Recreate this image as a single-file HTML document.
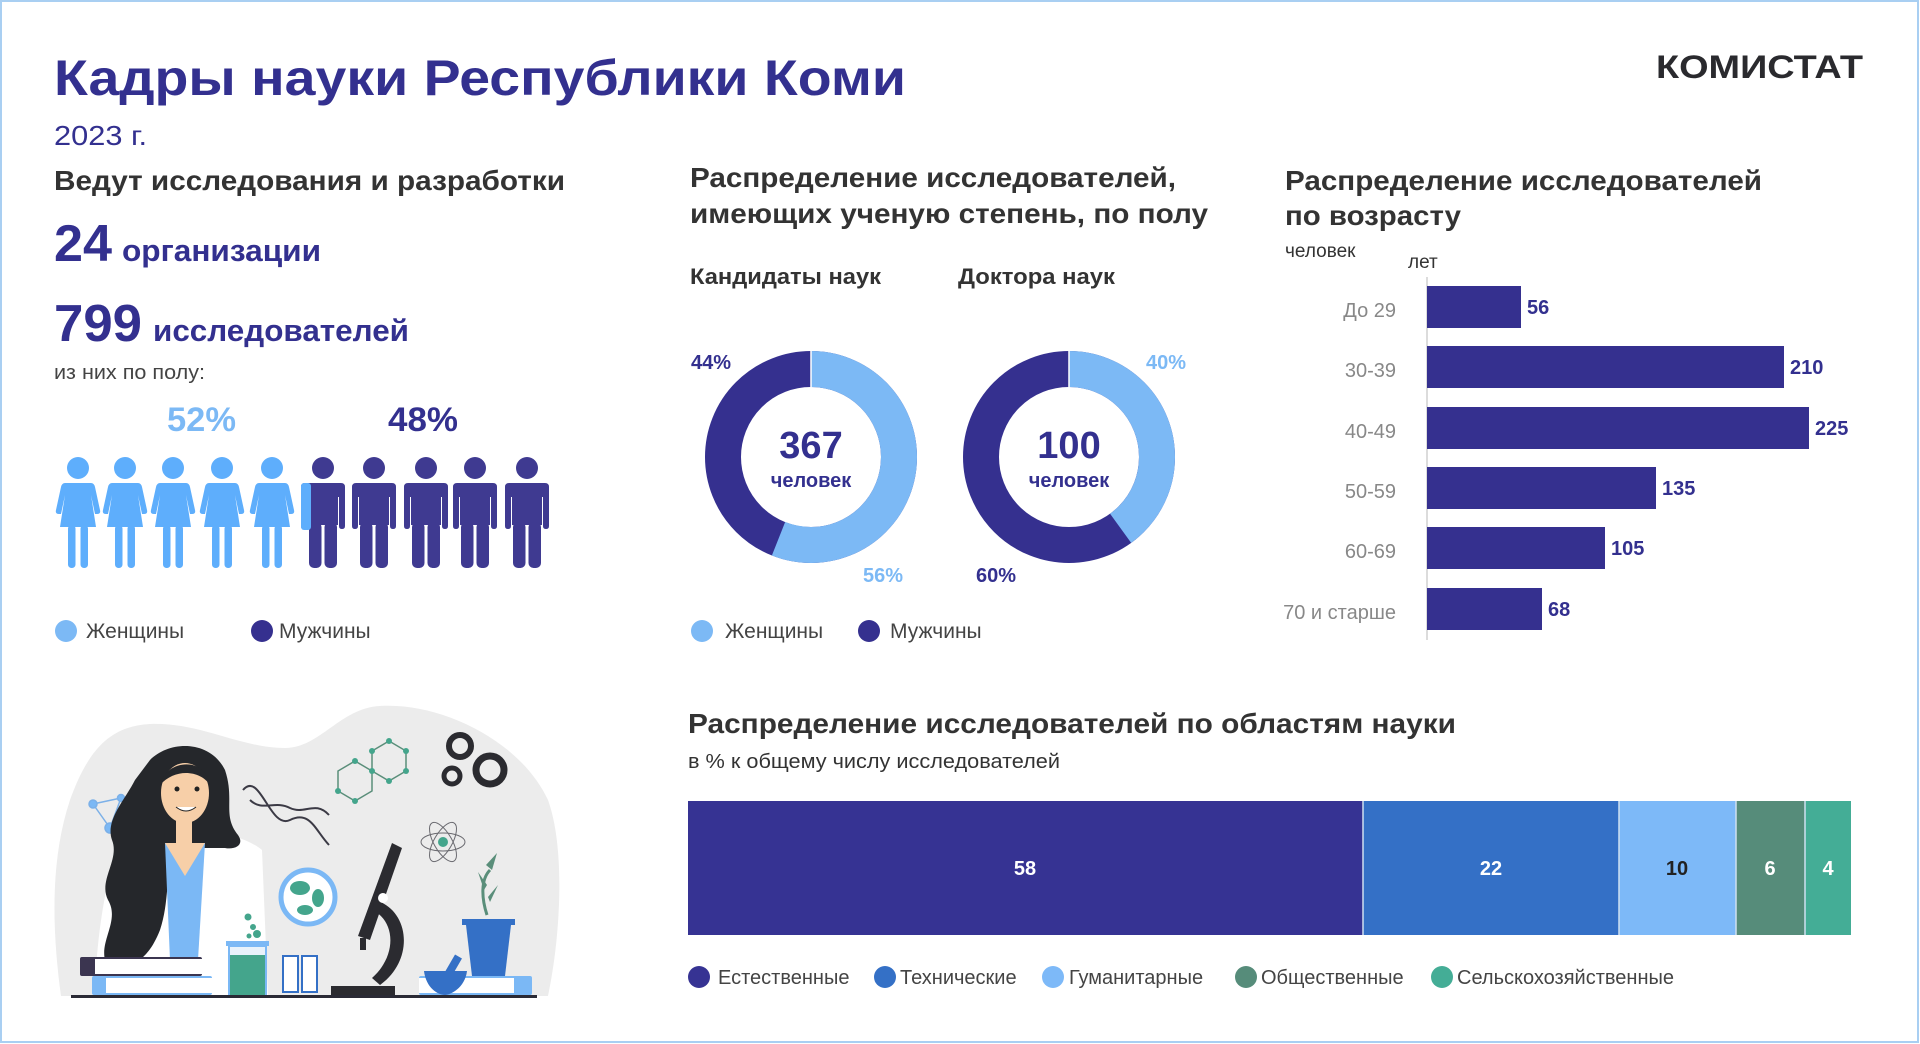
<!DOCTYPE html>
<html><head><meta charset="utf-8"><style>
html,body{margin:0;padding:0;background:#fff;}
svg{display:block;}
text{font-family:"Liberation Sans",sans-serif;}
</style></head><body>
<svg width="1920" height="1044" viewBox="0 0 1920 1044" xmlns="http://www.w3.org/2000/svg">
<rect x="0" y="0" width="1920" height="1044" fill="#fff"/>
<rect x="1" y="1" width="1917" height="1041" fill="none" stroke="#a9cff2" stroke-width="2"/>

<!-- Header -->
<text x="54" y="95" font-size="50" font-weight="bold" fill="#33308f" textLength="852" lengthAdjust="spacingAndGlyphs">Кадры науки Республики Коми</text>
<text x="54" y="145" font-size="28" fill="#33308f" textLength="93" lengthAdjust="spacingAndGlyphs">2023 г.</text>
<text x="1656" y="78" font-size="32" font-weight="bold" fill="#2a2a2e" textLength="207" lengthAdjust="spacingAndGlyphs">КОМИСТАТ</text>

<!-- Left block -->
<text x="54" y="190" font-size="28" font-weight="bold" fill="#333" textLength="511" lengthAdjust="spacingAndGlyphs">Ведут исследования и разработки</text>
<text x="54" y="261" font-size="52" font-weight="bold" fill="#33308f" textLength="58" lengthAdjust="spacingAndGlyphs">24</text>
<text x="122" y="261" font-size="31" font-weight="bold" fill="#33308f" textLength="199" lengthAdjust="spacingAndGlyphs">организации</text>
<text x="54" y="341" font-size="52" font-weight="bold" fill="#33308f" textLength="88" lengthAdjust="spacingAndGlyphs">799</text>
<text x="153" y="341" font-size="31" font-weight="bold" fill="#33308f" textLength="256" lengthAdjust="spacingAndGlyphs">исследователей</text>
<text x="54" y="379" font-size="20" fill="#444" textLength="151" lengthAdjust="spacingAndGlyphs">из них по полу:</text>
<text x="167" y="431" font-size="34" font-weight="bold" fill="#7cb9f5" textLength="69" lengthAdjust="spacingAndGlyphs">52%</text>
<text x="388" y="431" font-size="34" font-weight="bold" fill="#33308f" textLength="70" lengthAdjust="spacingAndGlyphs">48%</text>

<defs>
<g id="woman">
  <circle cx="0" cy="468" r="11"/>
  <path d="M-13,483 L13,483 Q16,483 17,487 L22,510 Q23,514 19,514 L17,514 L13,495 L18,527 L-18,527 L-13,495 L-17,514 L-19,514 Q-23,514 -22,510 L-17,487 Q-16,483 -13,483 Z"/>
  <rect x="-10" y="525" width="7.5" height="43" rx="3.5"/>
  <rect x="2.5" y="525" width="7.5" height="43" rx="3.5"/>
</g>
<g id="man">
  <circle cx="0" cy="468" r="11"/>
  <path d="M-18,483 L18,483 Q22,483 22,487 L22,526 Q22,529 19,529 Q16,529 16,526 L16,497 L15,497 L15,525 L-15,525 L-15,497 L-16,497 L-16,526 Q-16,529 -19,529 Q-22,529 -22,526 L-22,487 Q-22,483 -18,483 Z"/>
  <rect x="-14" y="522" width="12.5" height="46" rx="5"/>
  <rect x="1.5" y="522" width="12.5" height="46" rx="5"/>
</g>
</defs>
<g fill="#5eaefc">
  <use href="#woman" x="78"/><use href="#woman" x="125"/><use href="#woman" x="173"/><use href="#woman" x="222"/><use href="#woman" x="272"/>
</g>
<g fill="#3f3a91">
  <use href="#man" x="323"/><use href="#man" x="374"/><use href="#man" x="426"/><use href="#man" x="475"/><use href="#man" x="527"/>
</g>
<rect x="301" y="483" width="10" height="47" fill="#5eaefc" rx="3"/>

<circle cx="66" cy="631" r="11" fill="#7cb9f5"/>
<text x="86" y="638" font-size="21" fill="#444">Женщины</text>
<circle cx="262" cy="631" r="11" fill="#35308f"/>
<text x="279" y="638" font-size="21" fill="#444">Мужчины</text>

<!-- Donuts -->
<text x="690" y="187" font-size="28" font-weight="bold" fill="#333" textLength="486" lengthAdjust="spacingAndGlyphs">Распределение исследователей,</text>
<text x="690" y="223" font-size="28" font-weight="bold" fill="#333" textLength="518" lengthAdjust="spacingAndGlyphs">имеющих ученую степень, по полу</text>
<text x="690" y="284" font-size="22" font-weight="bold" fill="#333" textLength="191" lengthAdjust="spacingAndGlyphs">Кандидаты наук</text>
<text x="958" y="284" font-size="22" font-weight="bold" fill="#333" textLength="157" lengthAdjust="spacingAndGlyphs">Доктора наук</text>

<g transform="rotate(-90 811 457)">
  <circle cx="811" cy="457" r="88" fill="none" stroke="#35308f" stroke-width="36"/>
  <circle cx="811" cy="457" r="88" fill="none" stroke="#7cb9f5" stroke-width="36" stroke-dasharray="309.6 1000"/>
</g>
<line x1="811" y1="351" x2="811" y2="387" stroke="#fff" stroke-width="1.5"/>
<text x="811" y="458" font-size="38" font-weight="bold" fill="#33308f" text-anchor="middle">367</text>
<text x="811" y="487" font-size="20" font-weight="bold" fill="#33308f" text-anchor="middle">человек</text>
<text x="691" y="369" font-size="20" font-weight="bold" fill="#33308f">44%</text>
<text x="863" y="582" font-size="20" font-weight="bold" fill="#7cb9f5">56%</text>

<g transform="rotate(-90 1069 457)">
  <circle cx="1069" cy="457" r="88" fill="none" stroke="#35308f" stroke-width="36"/>
  <circle cx="1069" cy="457" r="88" fill="none" stroke="#7cb9f5" stroke-width="36" stroke-dasharray="221.2 1000"/>
</g>
<line x1="1069" y1="351" x2="1069" y2="387" stroke="#fff" stroke-width="1.5"/>
<text x="1069" y="458" font-size="38" font-weight="bold" fill="#33308f" text-anchor="middle">100</text>
<text x="1069" y="487" font-size="20" font-weight="bold" fill="#33308f" text-anchor="middle">человек</text>
<text x="1146" y="369" font-size="20" font-weight="bold" fill="#7cb9f5">40%</text>
<text x="976" y="582" font-size="20" font-weight="bold" fill="#33308f">60%</text>

<circle cx="702" cy="631" r="11" fill="#7cb9f5"/>
<text x="725" y="638" font-size="21" fill="#444">Женщины</text>
<circle cx="869" cy="631" r="11" fill="#35308f"/>
<text x="890" y="638" font-size="21" fill="#444">Мужчины</text>

<!-- Age chart -->
<text x="1285" y="190" font-size="28" font-weight="bold" fill="#333" textLength="477" lengthAdjust="spacingAndGlyphs">Распределение исследователей</text>
<text x="1285" y="225" font-size="28" font-weight="bold" fill="#333" textLength="176" lengthAdjust="spacingAndGlyphs">по возрасту</text>
<text x="1285" y="257" font-size="19" fill="#333">человек</text>
<text x="1408" y="268" font-size="19" fill="#333">лет</text>
<line x1="1427" y1="277" x2="1427" y2="640" stroke="#d0d0d0" stroke-width="1.5"/>
<g fill="#35308f">
  <rect x="1427" y="286" width="94" height="42"/>
  <rect x="1427" y="346" width="357" height="42"/>
  <rect x="1427" y="407" width="382" height="42"/>
  <rect x="1427" y="467" width="229" height="42"/>
  <rect x="1427" y="527" width="178" height="42"/>
  <rect x="1427" y="588" width="115" height="42"/>
</g>
<g font-size="20" font-weight="bold" fill="#33308f">
  <text x="1527" y="314">56</text>
  <text x="1790" y="374">210</text>
  <text x="1815" y="435">225</text>
  <text x="1662" y="495">135</text>
  <text x="1611" y="555">105</text>
  <text x="1548" y="616">68</text>
</g>
<g font-size="20" fill="#888" text-anchor="end">
  <text x="1396" y="317">До 29</text>
  <text x="1396" y="377">30-39</text>
  <text x="1396" y="438">40-49</text>
  <text x="1396" y="498">50-59</text>
  <text x="1396" y="558">60-69</text>
  <text x="1396" y="619">70 и старше</text>
</g>

<!-- Fields of science -->
<text x="688" y="733" font-size="28" font-weight="bold" fill="#333" textLength="768" lengthAdjust="spacingAndGlyphs">Распределение исследователей по областям науки</text>
<text x="688" y="768" font-size="20" fill="#333" textLength="372" lengthAdjust="spacingAndGlyphs">в % к общему числу исследователей</text>
<rect x="688" y="801" width="675" height="134" fill="#363393"/>
<rect x="1363" y="801" width="256" height="134" fill="#3470c6"/>
<rect x="1619" y="801" width="117" height="134" fill="#7db9f8"/>
<rect x="1736" y="801" width="69" height="134" fill="#568c7a"/>
<rect x="1805" y="801" width="46" height="134" fill="#44ad96"/>
<g stroke="#cfe0f0" stroke-width="1.5"><line x1="1363" y1="801" x2="1363" y2="935"/><line x1="1619" y1="801" x2="1619" y2="935"/><line x1="1736" y1="801" x2="1736" y2="935"/><line x1="1805" y1="801" x2="1805" y2="935"/></g>
<g font-size="20" font-weight="bold" text-anchor="middle">
  <text x="1025" y="875" fill="#fff">58</text>
  <text x="1491" y="875" fill="#fff">22</text>
  <text x="1677" y="875" fill="#222">10</text>
  <text x="1770" y="875" fill="#fff">6</text>
  <text x="1828" y="875" fill="#fff">4</text>
</g>
<g font-size="20" fill="#444">
  <circle cx="699" cy="977" r="11" fill="#363393"/><text x="718" y="984">Естественные</text>
  <circle cx="885" cy="977" r="11" fill="#3470c6"/><text x="900" y="984">Технические</text>
  <circle cx="1053" cy="977" r="11" fill="#7db9f8"/><text x="1069" y="984">Гуманитарные</text>
  <circle cx="1246" cy="977" r="11" fill="#568c7a"/><text x="1261" y="984">Общественные</text>
  <circle cx="1442" cy="977" r="11" fill="#44ad96"/><text x="1457" y="984">Сельскохозяйственные</text>
</g>

<!-- Illustration -->
<path d="M61,996 C52,930 50,860 70,800 C88,750 110,726 150,724 C200,722 240,748 285,748 C320,748 340,708 380,706 C440,702 520,740 548,800 C566,850 560,940 548,996 Z" fill="#ececec"/>
<g stroke="#7bb0e8" stroke-width="1.5" fill="#7bb8f5"><line x1="93" y1="804" x2="121" y2="798"/><line x1="121" y1="798" x2="110" y2="828"/><line x1="110" y1="828" x2="93" y2="804"/>
<circle cx="93" cy="804" r="4"/><circle cx="121" cy="798" r="3.5"/><circle cx="110" cy="828" r="5"/></g>
<!-- coat (behind hair on left) -->
<path d="M120,842 C130,836 150,834 162,832 L210,832 C230,834 250,840 262,850 L268,996 L95,996 C96,940 105,880 120,842 Z" fill="#ffffff"/>
<!-- hair -->
<path d="M150,760 C170,740 210,740 225,770 C235,800 222,815 238,835 C245,845 235,850 225,848 L175,848 C165,870 170,900 160,930 C152,950 145,955 140,960 L105,960 C100,940 120,920 108,900 C98,880 120,860 112,840 C105,820 125,800 135,780 Z" fill="#25272b"/>
<path d="M165,843 L205,843 L198,960 L170,960 Z" fill="#7bb8f5"/>
<path d="M165,843 L185,876 L205,843 Z" fill="#f7cfa8"/>
<rect x="176" y="820" width="16" height="26" fill="#f7cfa8"/>
<ellipse cx="185" cy="793" rx="24" ry="30" fill="#f7cfa8"/>
<path d="M160,785 C165,760 205,755 210,785 C200,770 175,768 160,785 Z" fill="#25272b"/>
<circle cx="177" cy="789" r="2.5" fill="#222"/><circle cx="197" cy="789" r="2.5" fill="#222"/>
<path d="M176,807 Q186,815 196,807" fill="#fff" stroke="#222" stroke-width="1"/>
<rect x="80" y="957" width="122" height="19" fill="#3b3550" rx="2"/>
<rect x="95" y="959" width="107" height="15" fill="#fff"/>
<rect x="92" y="976" width="120" height="19" fill="#7bb8f5" rx="2"/>
<rect x="106" y="978" width="106" height="15" fill="#fff"/>
<rect x="226" y="941" width="43" height="5" fill="#7bb8f5"/>
<rect x="229" y="946" width="37" height="50" fill="#e8f2fb" stroke="#7bb8f5" stroke-width="2"/>
<rect x="230" y="955" width="35" height="40" fill="#44a58c"/>
<g fill="#44a58c"><circle cx="248" cy="917" r="3.5"/><circle cx="253" cy="927" r="3"/><circle cx="257" cy="934" r="4"/><circle cx="249" cy="936" r="2.5"/></g>
<g fill="#fff" stroke="#3470c6" stroke-width="2"><rect x="283" y="956" width="15" height="36"/><rect x="302" y="956" width="15" height="36"/></g>
<circle cx="308" cy="897" r="27" fill="#fff" stroke="#7bb8f5" stroke-width="5"/>
<g fill="#44a58c"><ellipse cx="300" cy="888" rx="10" ry="7"/><ellipse cx="318" cy="898" rx="6" ry="9"/><ellipse cx="305" cy="910" rx="8" ry="5"/></g>
<path d="M243,790 C260,770 270,830 290,820 C310,810 315,830 329,845" fill="none" stroke="#3b3a45" stroke-width="2"/>
<path d="M250,800 C262,812 275,800 290,808 C305,815 315,800 329,815" fill="none" stroke="#3b3a45" stroke-width="2"/>
<g fill="none" stroke="#5a8e7a" stroke-width="1.5"><polygon points="389,741 406,751 406,771 389,781 372,771 372,751"/><polygon points="372,771 372,791 355,801 338,791 338,771 355,761"/></g>
<g fill="#44a58c"><circle cx="389" cy="741" r="3"/><circle cx="406" cy="751" r="3"/><circle cx="406" cy="771" r="3"/><circle cx="389" cy="781" r="3"/><circle cx="372" cy="771" r="3"/><circle cx="372" cy="751" r="3"/><circle cx="355" cy="801" r="3"/><circle cx="338" cy="791" r="3"/><circle cx="355" cy="761" r="3"/></g>
<g fill="none" stroke="#2b2b30"><circle cx="460" cy="746" r="11" stroke-width="6"/><circle cx="452" cy="776" r="8" stroke-width="5"/><circle cx="490" cy="770" r="14" stroke-width="7"/></g>
<g fill="none" stroke="#6a6a70" stroke-width="1"><ellipse cx="443" cy="842" rx="22" ry="9"/><ellipse cx="443" cy="842" rx="22" ry="9" transform="rotate(60 443 842)"/><ellipse cx="443" cy="842" rx="22" ry="9" transform="rotate(-60 443 842)"/></g>
<circle cx="443" cy="842" r="5" fill="#44a58c"/>
<g fill="#2b2b30"><path d="M392,843 L402,848 L370,940 L358,936 Z"/><path d="M375,900 C410,910 415,960 380,985 L372,978 C398,955 395,920 372,910 Z"/><rect x="331" y="986" width="64" height="10"/><rect x="360" y="938" width="6" height="12"/></g>
<circle cx="383" cy="898" r="5" fill="#fff"/>
<path d="M490,870 C480,880 482,900 487,915" stroke="#5a8e7a" stroke-width="3" fill="none"/>
<g fill="#5a8e7a"><path d="M492,870 L497,853 L486,865 Z"/><path d="M487,885 L478,872 L484,890 Z"/><path d="M488,897 L498,885 L490,902 Z"/></g>
<rect x="462" y="919" width="53" height="6" fill="#3470c6"/>
<path d="M466,925 L511,925 L505,976 L472,976 Z" fill="#3470c6"/>
<rect x="419" y="976" width="113" height="19" fill="#7bb8f5" rx="2"/>
<rect x="419" y="978" width="95" height="15" fill="#fff"/>
<path d="M424,971 L467,971 C465,988 450,995 445,995 C438,995 426,988 424,971 Z" fill="#3470c6"/>
<rect x="449" y="955" width="8" height="22" fill="#3470c6" transform="rotate(30 453 966)"/>
<rect x="71" y="995" width="466" height="3" fill="#2a2a35"/>
</svg>
</body></html>
